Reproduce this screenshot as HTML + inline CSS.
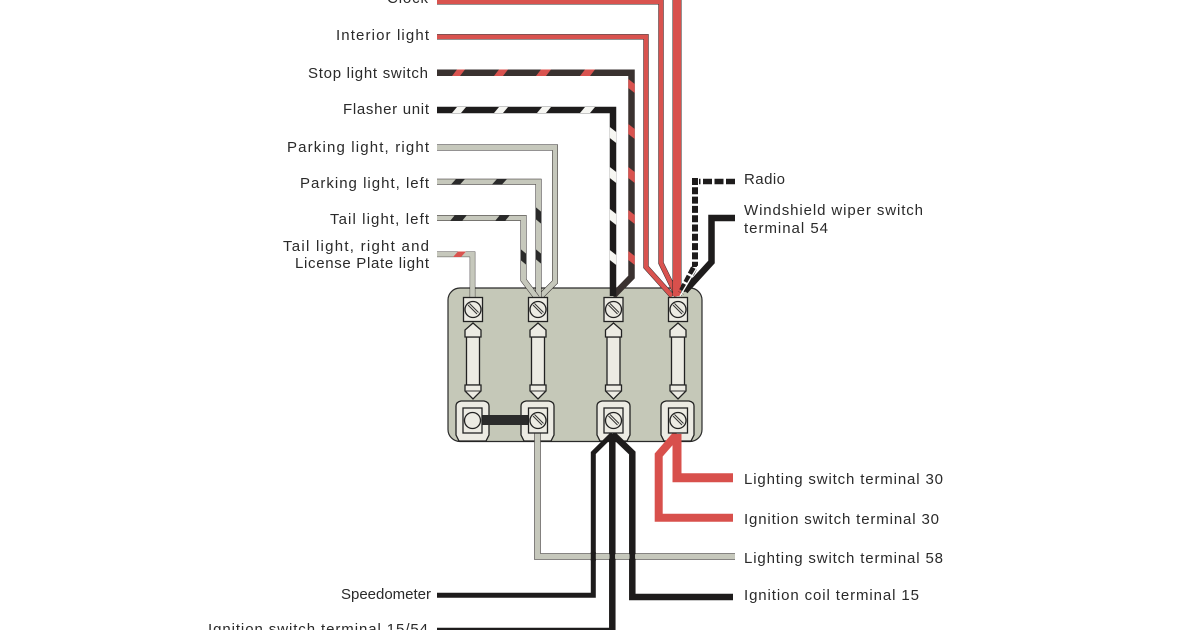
<!DOCTYPE html>
<html><head><meta charset="utf-8">
<style>
html,body{margin:0;padding:0;background:#fff;width:1200px;height:630px;overflow:hidden}
svg{display:block}
text{font-family:"Liberation Sans",sans-serif;font-size:15px;fill:#2a2a2a}
.u{fill:none;stroke:#2a2426;stroke-linejoin:miter}
.w{fill:none;stroke-linejoin:miter}
.o{fill:#ecebe3;stroke:#222;stroke-width:1.3}
.l{stroke:#333;stroke-width:1;fill:none}
</style></head><body>
<svg width="1200" height="630" viewBox="0 0 1200 630" xmlns="http://www.w3.org/2000/svg">
<rect width="1200" height="630" fill="#fff"/>
<rect x="448" y="288" width="254" height="153.500" rx="12" fill="#c5c8b8" stroke="#2a2a2a" stroke-width="1.200"/>

<!-- bottom terminal outers -->
<g class="o">
<path d="M459,441 L456,435 V406 Q456,402 461,401 H484 Q489,402 489,406 V435 L486,441Z"/>
<path d="M524,441 L521,435 V406 Q521,402 526,401 H549 Q554,402 554,406 V435 L551,441Z"/>
<path d="M600,441 L597,435 V406 Q597,402 602,401 H625 Q630,402 630,406 V435 L627,441Z"/>
<path d="M664,441 L661,435 V406 Q661,402 666,401 H689 Q694,402 694,406 V435 L691,441Z"/>
</g>

<!-- top wires -->
<path class="u" stroke-width="5.400" d="M437,1.800 H661 V263 L677,296"/>
<path class="w" stroke="#d9534f" stroke-width="4.400" d="M437,1.800 H661 V263 L677,296"/>
<path class="u" stroke-width="5.400" d="M437,36.800 H646 V267 L672,296"/>
<path class="w" stroke="#d9534f" stroke-width="4.400" d="M437,36.800 H646 V267 L672,296"/>
<path class="u" stroke-width="9" d="M677,0 V296"/>
<path class="w" stroke="#d8504c" stroke-width="8" d="M677,0 V296"/>

<path class="w" stroke="#3a3230" stroke-width="6.500" d="M437,72.700 H631.500 V277 L613,296"/>
<path class="w" stroke="#1e1c1c" stroke-width="6.500" d="M437,110 H613 V296"/>

<g fill="#d9534f">
<polygon points="452,76 457,69.500 465,69.500 460,76"/>
<polygon points="494,76 499,69.500 508,69.500 503,76"/>
<polygon points="536,76 541,69.500 551,69.500 546,76"/>
<polygon points="580,76 585,69.500 595,69.500 590,76"/>
<polygon points="628.300,79 634.700,84 634.700,93 628.300,88"/>
<polygon points="628.300,124 634.700,129 634.700,139 628.300,134"/>
<polygon points="628.300,167 634.700,172 634.700,183 628.300,178"/>
<polygon points="628.300,210 634.700,215 634.700,224 628.300,219"/>
<polygon points="628.300,251 634.700,256 634.700,265 628.300,260"/>
</g>
<g fill="#f6f6f2">
<polygon points="452,113 457,107 466,107 461,113"/>
<polygon points="494,113 499,107 508,107 503,113"/>
<polygon points="537,113 542,107 551,107 546,113"/>
<polygon points="580,113 585,107 595,107 590,113"/>
<polygon points="609.800,127 616.200,132 616.200,143 609.800,138"/>
<polygon points="609.800,167 616.200,172 616.200,183 609.800,178"/>
<polygon points="609.800,209 616.200,214 616.200,225 609.800,220"/>
<polygon points="609.800,250 616.200,255 616.200,265 609.800,260"/>
</g>

<path class="u" stroke-width="6" d="M437,147.500 H555 V282 L539,298"/>
<path class="w" stroke="#c6c8bc" stroke-width="5" d="M437,147.500 H555 V282 L539,298"/>
<path class="u" stroke-width="6" d="M437,181.800 H538.500 V298"/>
<path class="w" stroke="#c6c8bc" stroke-width="5" d="M437,181.800 H538.500 V298"/>
<path class="u" stroke-width="6" d="M437,218 H523.500 V280 L537,298"/>
<path class="w" stroke="#c6c8bc" stroke-width="5" d="M437,218 H523.500 V280 L537,298"/>
<path class="u" stroke-width="5.600" d="M437,254.300 H472.500 V298"/>
<path class="w" stroke="#c6c8bc" stroke-width="4.800" d="M437,254.300 H472.500 V298"/>

<g fill="#2a2a2a">
<polygon points="451,184.500 456,179 465,179 460,184.500"/>
<polygon points="492,184.500 497,179 507,179 502,184.500"/>
<polygon points="450,221 455,215 467,215 462,221"/>
<polygon points="495,221 500,215 510,215 505,221"/>
<polygon points="535.500,207 541.500,212 541.500,224 535.500,219"/>
<polygon points="535.500,249 541.500,254 541.500,264 535.500,259"/>
<polygon points="520.500,249 526.500,254 526.500,265 520.500,260"/>
</g>
<polygon points="453,257 458,251.500 466,251.500 461,257" fill="#d9534f"/>

<!-- radio / wiper -->
<path fill="none" stroke="#1e1c1c" stroke-width="5.500" stroke-dasharray="9 2.500" d="M735,181.500 H699"/>
<path fill="none" stroke="#1e1c1c" stroke-width="6" stroke-dasharray="7 2.300" d="M695,178 V267"/>
<path fill="none" stroke="#1e1c1c" stroke-width="6.500" stroke-dasharray="7 2.300" d="M694,268 L681,293"/>
<path fill="none" stroke="#1e1c1c" stroke-width="6.500" d="M735,218 H711.500 V262 L685,291"/>
<path fill="none" stroke="#fff" stroke-width="1.300" d="M698,266 L680,296"/>

<!-- bottom wires -->
<path class="u" stroke-width="6.600" d="M537.500,432 V556.500 H735"/>
<path class="w" stroke="#c6c8bc" stroke-width="5.600" d="M537.500,432 V556.500 H735"/>
<path class="w" stroke="#1e1c1c" stroke-width="5" d="M437,595.300 H593.300 V453 L612.500,434"/>
<path class="w" stroke="#1e1c1c" stroke-width="6.500" d="M733,597 H632.300 V453 L612.500,434"/>
<path class="w" stroke="#1e1c1c" stroke-width="6.500" d="M437,631 H612.300 V434"/>
<path class="w" stroke="#c6c8bc" stroke-width="4.500" d="M590,556.500 H636"/>
<path class="w" stroke="#1e1c1c" stroke-width="5" d="M593.300,552 V561"/>
<path class="w" stroke="#1e1c1c" stroke-width="5.500" d="M612.300,552 V561"/>
<path class="w" stroke="#1e1c1c" stroke-width="5.500" d="M632.300,552 V561"/>
<path class="w" stroke="#d8504c" stroke-width="8" d="M733,517.700 H658.700 V455 L677,434"/>
<path class="w" stroke="#d8504c" stroke-width="9" d="M733,477.700 H677 V434"/>

<!-- jumper -->
<rect x="482" y="415" width="47" height="10" fill="#2b2b2b"/>

<!-- fuses -->
<defs>
<g id="fuse">
<path class="o" d="M-6.500,337 H6.500 V385 H-6.500Z"/>
<path class="o" d="M0,323 L8,330 V337 H-8 V330Z"/>
<path class="o" d="M-8,385 H8 V391 L0,399 L-8,391Z"/>
<path class="l" d="M-8,391 H8"/>
<rect class="o" x="-9.500" y="297.500" width="19" height="24"/>
<circle class="o" cx="0" cy="309.500" r="8"/>
<path class="l" d="M-5,305 L4,314 M-3.500,303.500 L5.500,312.500"/>
</g>
<g id="bt">
<rect class="o" x="-9.500" y="408" width="19" height="25"/>
<circle class="o" cx="0" cy="420.500" r="8"/>
<path class="l" d="M-5,416 L4,425 M-3.500,414.500 L5.500,423.500"/>
</g>
</defs>
<use href="#fuse" x="473"/>
<use href="#fuse" x="538"/>
<use href="#fuse" x="613.500"/>
<use href="#fuse" x="678"/>
<rect class="o" x="463" y="408" width="19" height="25"/>
<circle class="o" cx="472.500" cy="420.500" r="8"/>
<use href="#bt" x="538"/>
<use href="#bt" x="613.500"/>
<use href="#bt" x="678"/>

<!-- left labels -->
<text x="387" y="3" textLength="41" lengthAdjust="spacing">Clock</text>
<text x="336" y="40" textLength="93" lengthAdjust="spacing">Interior light</text>
<text x="308" y="78" textLength="120" lengthAdjust="spacing">Stop light switch</text>
<text x="343" y="114" textLength="86" lengthAdjust="spacing">Flasher unit</text>
<text x="287" y="152" textLength="142" lengthAdjust="spacing">Parking light, right</text>
<text x="300" y="188" textLength="129" lengthAdjust="spacing">Parking light, left</text>
<text x="330" y="224" textLength="99" lengthAdjust="spacing">Tail light, left</text>
<text x="283" y="251" textLength="146" lengthAdjust="spacing">Tail light, right and</text>
<text x="295" y="268" textLength="134" lengthAdjust="spacing">License Plate light</text>
<text x="341" y="599" textLength="90" lengthAdjust="spacing">Speedometer</text>
<text x="208" y="634" textLength="220" lengthAdjust="spacing">Ignition switch terminal 15/54</text>
<!-- right labels -->
<text x="744" y="184" textLength="41" lengthAdjust="spacing">Radio</text>
<text x="744" y="215" textLength="179" lengthAdjust="spacing">Windshield wiper switch</text>
<text x="744" y="233" textLength="84" lengthAdjust="spacing">terminal 54</text>
<text x="744" y="484" textLength="199" lengthAdjust="spacing">Lighting switch terminal 30</text>
<text x="744" y="524" textLength="195" lengthAdjust="spacing">Ignition switch terminal 30</text>
<text x="744" y="563" textLength="199" lengthAdjust="spacing">Lighting switch terminal 58</text>
<text x="744" y="600" textLength="175" lengthAdjust="spacing">Ignition coil terminal 15</text>
</svg>
</body></html>
